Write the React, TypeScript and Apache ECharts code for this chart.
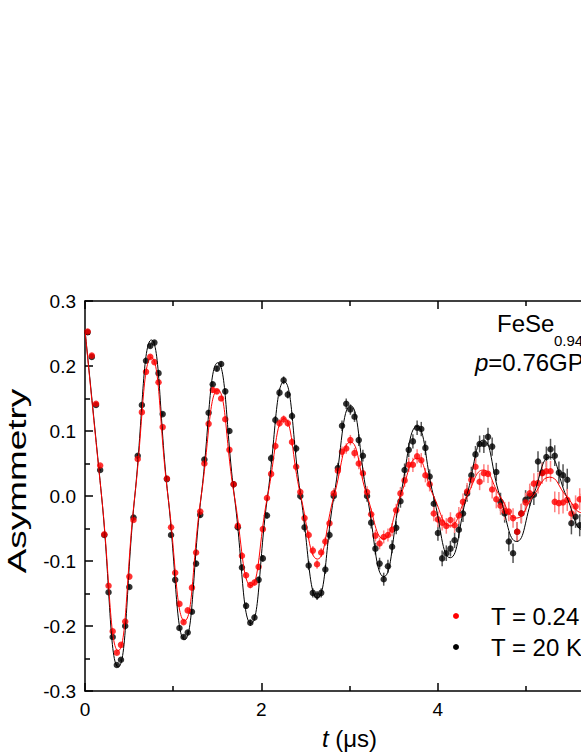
import React, { useEffect, useRef } from "react";
import * as echarts from "echarts";

// Time bins (μs)
const times = [
  0.030, 0.077, 0.125, 0.172, 0.219, 0.267, 0.314, 0.361, 0.408, 0.456,
  0.503, 0.550, 0.598, 0.645, 0.692, 0.740, 0.787, 0.834, 0.881, 0.929,
  0.976, 1.023, 1.071, 1.118, 1.165, 1.213, 1.260, 1.307, 1.354, 1.402,
  1.449, 1.496, 1.544, 1.591, 1.638, 1.686, 1.733, 1.780, 1.827, 1.875,
  1.922, 1.969, 2.017, 2.064, 2.111, 2.159, 2.206, 2.253, 2.300, 2.348,
  2.395, 2.442, 2.490, 2.537, 2.584, 2.632, 2.679, 2.726, 2.773, 2.821,
  2.868, 2.915, 2.963, 3.010, 3.057, 3.105, 3.152, 3.199, 3.246, 3.294,
  3.341, 3.388, 3.436, 3.483, 3.530, 3.578, 3.625, 3.672, 3.719, 3.767,
  3.814, 3.861, 3.909, 3.956, 4.003, 4.051, 4.098, 4.145, 4.192, 4.240,
  4.287, 4.334, 4.382, 4.429, 4.476, 4.524, 4.571, 4.618, 4.665, 4.713,
  4.760, 4.807, 4.855, 4.902, 4.949, 4.997, 5.044, 5.091, 5.138, 5.186,
  5.233, 5.280, 5.328, 5.375, 5.422, 5.470, 5.517, 5.564, 5.611, 5.659,
  5.706,
];

// Asymmetry at T = 0.24 K (red)
const asymLow = [
  0.253, 0.216, 0.142, 0.047, -0.059, -0.138, -0.208, -0.241, -0.229, -0.193,
  -0.124, -0.037, 0.057, 0.129, 0.191, 0.214, 0.206, 0.175, 0.106, 0.027,
  -0.048, -0.118, -0.166, -0.194, -0.176, -0.141, -0.087, -0.024, 0.050, 0.111,
  0.163, 0.161, 0.150, 0.118, 0.071, 0.018, -0.046, -0.092, -0.122, -0.137,
  -0.133, -0.109, -0.051, -0.003, 0.034, 0.077, 0.112, 0.118, 0.112, 0.083,
  0.045, 0.006, -0.034, -0.060, -0.084, -0.105, -0.087, -0.070, -0.042, 0.004,
  0.039, 0.068, 0.073, 0.086, 0.066, 0.050, 0.035, 0.006, -0.028, -0.061,
  -0.073, -0.063, -0.060, -0.052, -0.022, 0.004, 0.024, 0.048, 0.048, 0.061,
  0.055, 0.032, 0.018, -0.027, -0.036, -0.041, -0.046, -0.037, -0.045, -0.030,
  -0.009, 0.007, 0.025, 0.045, 0.022, 0.035, 0.034, 0.010, -0.005, -0.015,
  -0.023, -0.024, -0.034, -0.055, -0.027, -0.010, 0.004, 0.019, 0.020, 0.035,
  0.038, 0.038, -0.009, -0.011, -0.010, -0.006, -0.027, -0.016, -0.005, 0.002,
  -0.012,
];

// Asymmetry at T = 20 K (black)
const asymHigh = [
  0.252, 0.214, 0.140, 0.040, -0.060, -0.148, -0.217, -0.260, -0.252, -0.200,
  -0.140, -0.033, 0.062, 0.140, 0.208, 0.231, 0.236, 0.189, 0.126, 0.026,
  -0.060, -0.129, -0.203, -0.217, -0.210, -0.178, -0.104, -0.029, 0.056, 0.128,
  0.172, 0.196, 0.203, 0.161, 0.100, 0.018, -0.048, -0.110, -0.169, -0.195,
  -0.187, -0.129, -0.096, -0.030, 0.058, 0.117, 0.159, 0.178, 0.156, 0.123,
  0.073, 0.000, -0.048, -0.107, -0.149, -0.153, -0.149, -0.113, -0.060, 0.000,
  0.043, 0.108, 0.142, 0.133, 0.122, 0.086, 0.062, 0.000, -0.041, -0.081,
  -0.104, -0.128, -0.108, -0.078, -0.049, -0.008, 0.040, 0.071, 0.084, 0.105,
  0.103, 0.074, 0.030, -0.012, -0.057, -0.096, -0.088, -0.081, -0.068, -0.052,
  -0.027, 0.004, 0.032, 0.064, 0.080, 0.080, 0.091, 0.076, 0.037, -0.009,
  -0.027, -0.070, -0.088, -0.055, -0.027, -0.006, 0.000, 0.002, 0.053, 0.036,
  0.060, 0.072, 0.062, 0.036, 0.032, 0.025, -0.042, -0.032, -0.045, -0.030,
  0.010,
];

// Error bars (half-length)
const errors = [
  0.002, 0.002, 0.002, 0.002, 0.002, 0.002, 0.002, 0.002, 0.002, 0.002,
  0.003, 0.003, 0.003, 0.003, 0.003, 0.003, 0.003, 0.003, 0.003, 0.003,
  0.003, 0.003, 0.003, 0.003, 0.003, 0.004, 0.004, 0.004, 0.004, 0.004,
  0.004, 0.004, 0.004, 0.004, 0.004, 0.005, 0.005, 0.005, 0.005, 0.005,
  0.005, 0.005, 0.005, 0.005, 0.006, 0.006, 0.006, 0.006, 0.006, 0.006,
  0.006, 0.006, 0.007, 0.007, 0.007, 0.007, 0.007, 0.007, 0.007, 0.008,
  0.008, 0.008, 0.008, 0.008, 0.008, 0.009, 0.009, 0.009, 0.009, 0.009,
  0.009, 0.010, 0.010, 0.010, 0.010, 0.010, 0.010, 0.011, 0.011, 0.011,
  0.011, 0.011, 0.011, 0.012, 0.012, 0.012, 0.012, 0.012, 0.012, 0.013,
  0.013, 0.013, 0.013, 0.013, 0.013, 0.014, 0.014, 0.014, 0.014, 0.014,
  0.014, 0.015, 0.015, 0.015, 0.015, 0.015, 0.015, 0.016, 0.016, 0.016,
  0.016, 0.016, 0.016, 0.017, 0.017, 0.017, 0.017, 0.017, 0.017, 0.018,
  0.018,
];

// Fit curves, read at quarter-period points
const fitTimes = [
  0.000, 0.188, 0.377, 0.565, 0.753, 0.941, 1.130, 1.318, 1.506, 1.694,
  1.883, 2.071, 2.259, 2.447, 2.636, 2.824, 3.012, 3.200, 3.389, 3.577,
  3.765, 3.953, 4.142, 4.330, 4.518, 4.706, 4.895, 5.083, 5.271, 5.459,
  5.648, 5.836,
];
const fitLow = [
  0.255, 0.0, -0.238, 0.0, 0.213, 0.0, -0.192, 0.0, 0.163, 0.0,
  -0.138, 0.0, 0.119, 0.0, -0.097, 0.0, 0.083, 0.0, -0.066, 0.0,
  0.058, 0.0, -0.046, 0.0, 0.040, 0.0, -0.034, 0.0, 0.029, 0.0,
  -0.026, 0.0,
];
const fitHigh = [
  0.255, 0.0, -0.263, 0.0, 0.240, 0.0, -0.221, 0.0, 0.205, 0.0,
  -0.196, 0.0, 0.176, 0.0, -0.157, 0.0, 0.139, 0.0, -0.124, 0.0,
  0.107, 0.0, -0.095, 0.0, 0.086, 0.0, -0.070, 0.0, 0.060, 0.0,
  -0.052, 0.0,
];

const labelLow = "T = 0.24 K";
const labelHigh = "T = 20 K";
const colorLow = "#ff0000";
const colorHigh = "#000000";
const FONT = "'Liberation Sans', Arial, Helvetica, sans-serif";

function errSeries(name: string, vals: number[], color: string) {
  return {
    type: "custom",
    name,
    xAxisIndex: 0,
    yAxisIndex: 0,
    silent: true,
    data: times.map((t, i) => [t, vals[i] - errors[i], vals[i] + errors[i]]),
    encode: { x: 0, y: [1, 2] },
    renderItem: (_p: any, api: any) => {
      const lo = api.coord([api.value(0), api.value(1)]);
      const hi = api.coord([api.value(0), api.value(2)]);
      return {
        type: "line",
        shape: { x1: lo[0], y1: lo[1], x2: hi[0], y2: hi[1] },
        style: { stroke: color, lineWidth: 1.5 },
      };
    },
  };
}

const tickCommon = {
  axisLine: { show: true, onZero: false, lineStyle: { color: "#000", width: 1.5 } },
  axisTick: { show: true, inside: true, length: 8, lineStyle: { color: "#000", width: 1.5 } },
  minorTick: { show: true, splitNumber: 2, length: 5, lineStyle: { color: "#000", width: 1.5 } },
  splitLine: { show: false },
};

function legendEntry(y: number, color: string, label: string) {
  return {
    type: "group",
    children: [
      { type: "circle", shape: { cx: 456, cy: y, r: 3 }, style: { fill: color } },
      {
        type: "text",
        x: 491,
        y,
        style: { text: label, fontSize: 24, fontFamily: FONT, fill: "#000", verticalAlign: "middle" },
      },
    ],
  };
}

export default function App() {
  const ref = useRef<HTMLDivElement>(null);
  useEffect(() => {
    if (!ref.current) return;
    const chart = echarts.init(ref.current, undefined, { renderer: "svg" });
    chart.setOption({
      animation: false,
      backgroundColor: "#ffffff",
      textStyle: { fontFamily: FONT },
      grid: { left: 85, top: 301, width: 529, height: 390, outerBoundsMode: "none", containLabel: false },
      xAxis: [
        {
          type: "value",
          position: "bottom",
          min: 0,
          max: 6,
          interval: 2,
          name: "{i|t} ({n|μs})",
          nameLocation: "middle",
          nameGap: 35,
          nameTextStyle: {
            fontSize: 24,
            color: "#000",
            fontFamily: FONT,
            rich: {
              i: { fontSize: 24, fontStyle: "italic", fontFamily: FONT, color: "#000" },
              n: { fontSize: 24, fontFamily: FONT, color: "#000" },
            },
          },
          ...tickCommon,
          axisLabel: { fontSize: 19, color: "#000", margin: 9, fontFamily: FONT, showMaxLabel: false },
        },
        {
          type: "value",
          position: "top",
          min: 0,
          max: 6,
          interval: 2,
          ...tickCommon,
          axisLabel: { show: false },
        },
      ],
      yAxis: {
        type: "value",
        min: -0.3,
        max: 0.3,
        interval: 0.1,
        ...tickCommon,
        axisLabel: {
          fontSize: 19,
          color: "#000",
          margin: 9,
          fontFamily: FONT,
          formatter: (v: number) => v.toFixed(1),
        },
      },
      graphic: [
        {
          type: "text",
          x: 17,
          y: 481,
          rotation: Math.PI / 2,
          scaleX: 1.42,
          style: {
            text: "Asymmetry",
            fontSize: 26,
            fontFamily: FONT,
            fill: "#000",
            align: "center",
            verticalAlign: "middle",
          },
        },
        {
          type: "text",
          x: 497,
          y: 323,
          style: { text: "FeSe", fontSize: 24, fontFamily: FONT, fill: "#000", verticalAlign: "middle" },
        },
        {
          type: "text",
          x: 554,
          y: 340,
          style: { text: "0.94", fontSize: 15, fontFamily: FONT, fill: "#000", verticalAlign: "middle" },
        },
        {
          type: "text",
          x: 475,
          y: 362,
          style: {
            text: "{i|p}{n|=0.76GPa}",
            fontSize: 24,
            fontFamily: FONT,
            fill: "#000",
            verticalAlign: "middle",
            rich: {
              i: { fontSize: 24, fontStyle: "italic", fontFamily: FONT, fill: "#000" },
              n: { fontSize: 24, fontFamily: FONT, fill: "#000" },
            },
          },
        },
        legendEntry(616, colorLow, labelLow),
        legendEntry(647, colorHigh, labelHigh),
      ],
      series: [
        errSeries("errHigh", asymHigh, "#555555"),
        {
          type: "scatter",
          name: labelHigh,
          data: times.map((t, i) => [t, asymHigh[i]]),
          symbol: "circle",
          symbolSize: 6.5,
          itemStyle: { color: colorHigh },
        },
        {
          type: "line",
          name: "fitHigh",
          data: fitTimes.map((t, i) => [t, fitHigh[i]]),
          smooth: true,
          showSymbol: false,
          symbol: "none",
          lineStyle: { color: colorHigh, width: 1 },
          itemStyle: { color: colorHigh },
        },
        errSeries("errLow", asymLow, "#ff8080"),
        {
          type: "scatter",
          name: labelLow,
          data: times.map((t, i) => [t, asymLow[i]]),
          symbol: "circle",
          symbolSize: 6.5,
          itemStyle: { color: colorLow },
        },
        {
          type: "line",
          name: "fitLow",
          data: fitTimes.map((t, i) => [t, fitLow[i]]),
          smooth: true,
          showSymbol: false,
          symbol: "none",
          lineStyle: { color: colorLow, width: 1 },
          itemStyle: { color: colorLow },
        },
      ],
    });
    return () => chart.dispose();
  }, []);
  return (
    <div
      ref={ref}
      style={{ position: "fixed", left: 0, top: 0, width: 581, height: 752, overflow: "hidden", background: "#fff" }}
    />
  );
}
